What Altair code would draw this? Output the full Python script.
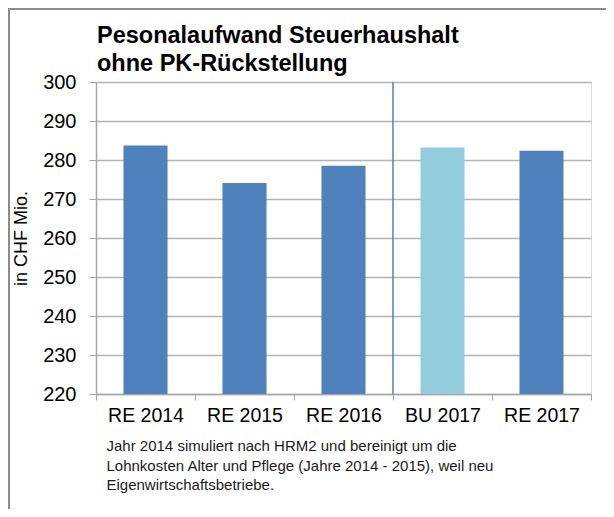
import altair as alt
import pandas as pd

categories = ["RE 2014", "RE 2015", "RE 2016", "BU 2017", "RE 2017"]
values = [283.7, 274.1, 278.5, 283.2, 282.4]
kinds = ["RE", "RE", "RE", "BU", "RE"]
y_min, y_max = 220, 300
y_ticks = [220, 230, 240, 250, 260, 270, 280, 290, 300]
title_lines = ["Pesonalaufwand Steuerhaushalt", "ohne PK-Rückstellung"]
footnote = [
    "Jahr 2014 simuliert nach HRM2  und bereinigt um die",
    "Lohnkosten  Alter und Pflege (Jahre 2014 - 2015), weil  neu",
    "Eigenwirtschaftsbetriebe.",
]
separator_at = ["BU 2017"]

FONT = "Liberation Sans"
W, H = 495, 312

df = pd.DataFrame({"cat": categories, "val": values, "kind": kinds, "base": [y_min] * len(values)})

x_scale = alt.Scale(domain=categories, paddingInner=0, paddingOuter=0)
y_scale = alt.Scale(domain=[y_min, y_max], nice=False, zero=False)

bars = alt.Chart(df).mark_bar(width=alt.RelativeBandSize(0.445)).encode(
    x=alt.X(
        "cat:N",
        scale=x_scale,
        sort=categories,
        axis=alt.Axis(
            title=footnote,
            titleAnchor="start",
            titleAlign="left",
            titleX=10,
            titleFontSize=15,
            titleFontWeight="normal",
            titleFont=FONT,
            titleColor="#1a1a1a",
            titleLineHeight=19.5,
            titlePadding=14,
            labelAngle=0,
            labelFontSize=19.5,
            labelFont=FONT,
            labelColor="#000000",
            labelPadding=6,
            tickBand="extent",
            tickSize=6,
            tickColor="#A6A6A6",
            domainColor="#A6A6A6",
            domainWidth=1.5,
            grid=False,
        ),
    ),
    y=alt.Y(
        "val:Q",
        scale=y_scale,
        axis=alt.Axis(
            title="in CHF Mio.",
            values=y_ticks,
            titleFontSize=18,
            titleFontWeight="normal",
            titleFont=FONT,
            titleColor="#000000",
            titlePadding=12,
            labelFontSize=20,
            labelFont=FONT,
            labelColor="#000000",
            labelPadding=13,
            labelOverlap=False,
            tickSize=7,
            tickColor="#A6A6A6",
            domainColor="#A6A6A6",
            domainWidth=1.5,
            gridColor="#B3B3B3",
            gridWidth=1.5,
        ),
    ),
    y2="base:Q",
    color=alt.Color(
        "kind:N",
        scale=alt.Scale(domain=["RE", "BU"], range=["#4F81BD", "#93CDDD"]),
        legend=None,
    ),
)

sep = alt.Chart(pd.DataFrame({"cat": separator_at})).mark_rule(
    color="#4F81BD", strokeWidth=1.5
).encode(
    x=alt.X("cat:N", scale=x_scale, sort=categories, bandPosition=0),
    y=alt.value(0),
    y2=alt.value(H),
)

border_left = alt.Chart(pd.DataFrame({"a": [0]})).mark_rule(
    color="#8C8C8C", strokeWidth=2
).encode(x=alt.value(-87), y=alt.value(-73), y2=alt.value(H + 115))

border_top = alt.Chart(pd.DataFrame({"a": [0]})).mark_rule(
    color="#8C8C8C", strokeWidth=2
).encode(x=alt.value(-88), x2=alt.value(W + 15), y=alt.value(-73))

chart = (
    alt.layer(bars, sep, border_left, border_top)
    .properties(
        width=W,
        height=H,
        title=alt.TitleParams(
            text=title_lines,
            anchor="start",
            frame="group",
            font=FONT,
            fontSize=23.5,
            fontWeight="bold",
            color="#000000",
            lineHeight=28,
            offset=8,
            dx=1,
            dy=75,
        ),
        padding={"left": 88, "top": 74, "right": 15, "bottom": 115},
        autosize=alt.AutoSizeParams(type="none"),
    )
    .configure_view(stroke=None)
    .configure(background="white")
)

chart.save("out.html", embed_options={"renderer": "svg", "actions": False})
